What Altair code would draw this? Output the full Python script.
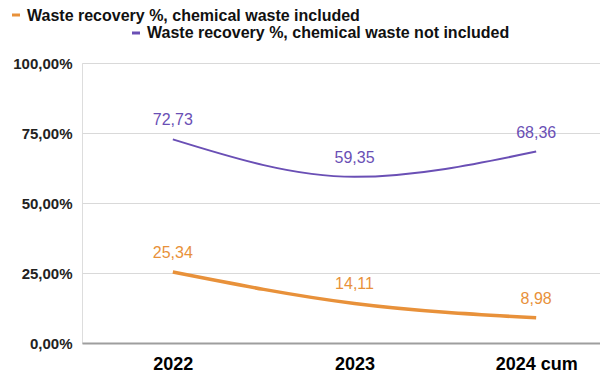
import altair as alt
import pandas as pd

years = ["2022", "2023", "2024 cum"]
series = ["Waste recovery %, chemical waste included",
          "Waste recovery %, chemical waste not included"]
vals_incl = [25.34, 14.11, 8.98]
vals_not = [72.73, 59.35, 68.36]
labels_incl = ["25,34", "14,11", "8,98"]
labels_not = ["72,73", "59,35", "68,36"]
colors = ["#E8913A", "#6A4FB5"]
y_ticks = [0, 25, 50, 75, 100]

rows = []
for y, v, l in zip(years, vals_incl, labels_incl):
    rows.append({"year": y, "series": series[0], "value": v, "label": l})
for y, v, l in zip(years, vals_not, labels_not):
    rows.append({"year": y, "series": series[1], "value": v, "label": l})
df = pd.DataFrame(rows)
leg_df = pd.DataFrame({"name": series})

x_enc = alt.X("year:N", sort=years,
              scale=alt.Scale(type="point", range=[0, 545], padding=0.5),
              axis=alt.Axis(title=None, labelAngle=0, labelFontSize=18,
                            labelFontWeight="bold", labelColor="#000000",
                            ticks=False, domainColor="#9e9e9e", domainWidth=2,
                            labelPadding=12, grid=False))
y_enc = alt.Y("value:Q",
              scale=alt.Scale(domain=[0, 100], nice=False),
              axis=alt.Axis(title=None, values=y_ticks,
                            labelExpr="replace(format(datum.value, '.2f'), '.', ',') + '%'",
                            labelFontSize=15, labelFontWeight="bold",
                            labelColor="#222222", gridColor="#d9d9d9",
                            domain=False, ticks=False, labelPadding=10))

base = alt.Chart(df)
layers = []
for s, c, w in zip(series, colors, [3.5, 2]):
    sub = base.transform_filter(alt.datum.series == s)
    layers.append(sub.mark_line(interpolate="monotone", color=c, strokeWidth=w)
                  .encode(x=x_enc, y=y_enc))
    layers.append(sub.mark_text(color=c, fontSize=16, baseline="alphabetic", dy=-14)
                  .encode(x=x_enc, y=y_enc, text="label:N"))

# legend
legend_pos = [(-55, -42.5, -70, -62, -48), (65, -25, 50, 58, -30)]
for s, c, (tx, ty, rx1, rx2, ry) in zip(series, colors, legend_pos):
    lb = alt.Chart(leg_df).transform_filter(alt.datum.name == s)
    layers.append(lb.mark_rule(color=c, strokeWidth=3)
                  .encode(x=alt.value(rx1), x2=alt.value(rx2), y=alt.value(ry)))
    layers.append(lb.mark_text(align="left", baseline="alphabetic", fontSize=16,
                               fontWeight="bold", color="#111111")
                  .encode(text="name:N", x=alt.value(tx), y=alt.value(ty)))

chart = alt.layer(*layers).properties(
    width=518, height=280,
    autosize=alt.AutoSizeParams(type="none"),
    padding={"left": 74, "top": 55, "right": 0, "bottom": 29},
).configure_view(stroke=None).configure(font="Liberation Sans")

chart.save("out.html", embed_options={"renderer": "svg", "actions": False})
